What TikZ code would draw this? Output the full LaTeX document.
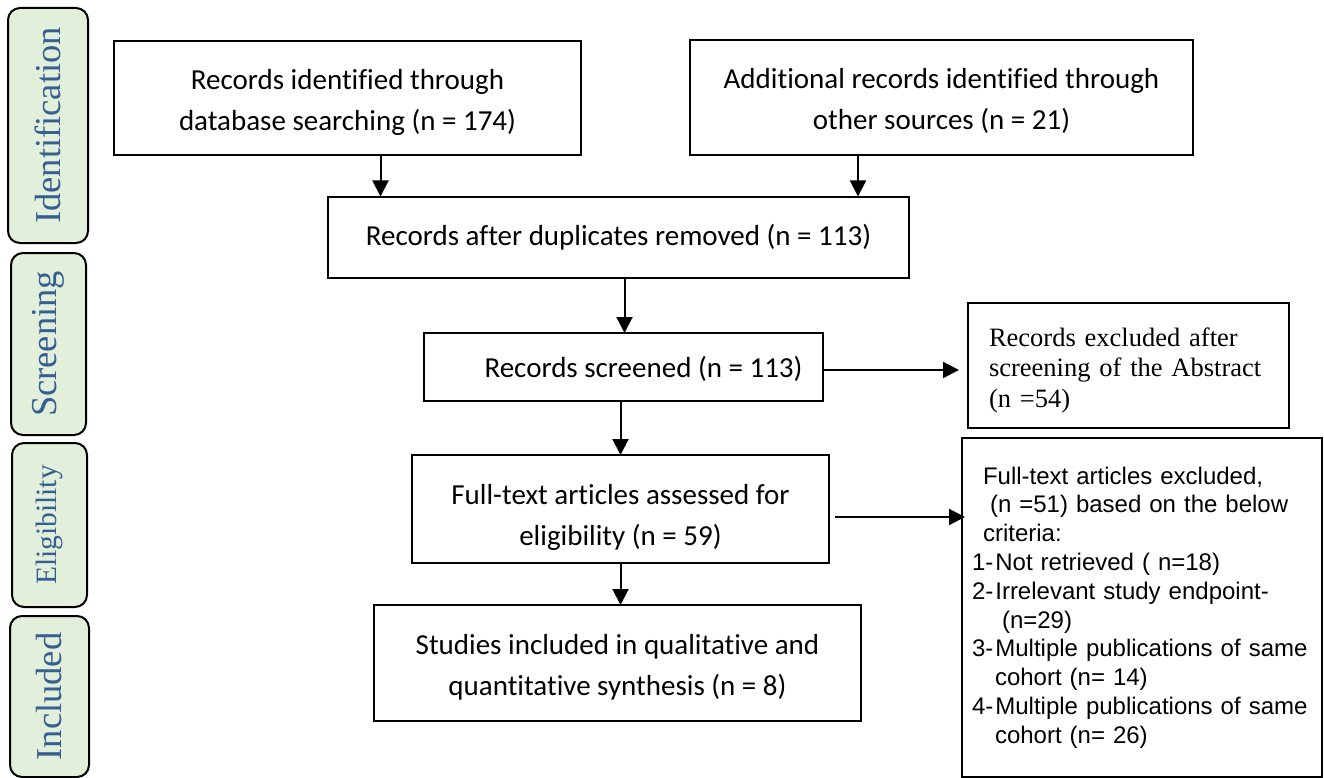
\documentclass[tikz,border=0pt]{standalone}
\usepackage{fontspec}
\setmainfont{Carlito}[Ligatures=CommonOff]
\newfontfamily\timesfont{Liberation Serif}
\newfontfamily\arialfont{Liberation Sans}
\usepackage{tikz}
\usetikzlibrary{positioning, arrows.meta}
\definecolor{phasefill}{HTML}{E2EFDA}
\definecolor{phasetext}{HTML}{365F91}
\tikzset{
  block/.style={rectangle, draw, line width=2pt, inner sep=0pt, outer sep=0pt, align=center, font=\fontsize{29}{41}\selectfont},
  phase/.style={rectangle, rounded corners=12pt, draw, line width=2pt, fill=phasefill, text=phasetext, rotate=90, inner sep=0pt, outer sep=0pt, font=\timesfont\fontsize{36.5}{40}\selectfont},
  sideblock/.style={rectangle, draw, line width=1.7pt, anchor=north west, inner ysep=0pt, outer sep=0pt, align=left},
  arrow/.style={-{Triangle[length=16pt, width=16pt]}, line width=2pt},
}

\begin{document}
\begin{tikzpicture}[x=1pt, y=-1pt]
  \useasboundingbox (0,0) rectangle (1324,778);

  % Phase labels
  \node[phase, minimum width=235pt, minimum height=80pt] (ident) at (48,125.5) {Identification};
  \node[phase, minimum width=182pt, minimum height=75pt] (screen) at (48.5,344) {Screening};
  \node[phase, minimum width=164pt, minimum height=75pt, font=\timesfont\fontsize{29.5}{32}\selectfont] (elig) at (49.5,525) {Eligibility};
  \node[phase, minimum width=161pt, minimum height=79pt] (incl) at (49.5,696.5) {Included};

  % Main flow
  \node[block, minimum width=467pt, minimum height=114pt] (idsearch) at (347.5,98) {\rule{0pt}{28pt}Records identified through\\database searching (n = 174)};
  \node[block, minimum width=503pt, minimum height=115pt] (idother) at (941.5,97.5) {\rule{0pt}{28pt}Additional records identified through\\other sources (n = 21)};
  \node[block, minimum width=581pt, minimum height=81pt] (dedup) at (618.5,237) {Records after duplicates removed (n = 113)};
  \node[block, minimum width=399pt, minimum height=68pt] (screened) at (623.5,367) {\hspace*{40pt}\rule{0pt}{26pt}Records screened (n = 113)};
  \node[block, minimum width=417pt, minimum height=108pt] (eligib) at (620.5,509) {\rule{0pt}{36pt}Full-text articles assessed for\\eligibility (n = 59)};
  \node[block, minimum width=487pt, minimum height=116pt] (studies) at (617.5,663) {\rule{0pt}{28pt}Studies included in qualitative and\\quantitative synthesis (n = 8)};

  % Exclusions
  \node[sideblock, minimum height=125pt, text width=279pt, inner xsep=21pt, font=\timesfont\fontsize{26.5}{30.5}\selectfont] (exclabs) at (968,303) {\rule{0pt}{28pt}Records excluded after\\screening of the Abstract\\(n =54)};
  \node[sideblock, minimum height=339pt, text width=340pt, inner xsep=10pt, font=\arialfont\fontsize{24}{28.8}\selectfont] (exclft) at (962,438) {%
    \hspace*{11pt}Full-text articles excluded,\\
    \hspace*{18pt}(n =51) based on the below\\
    \hspace*{11pt}criteria:\\
    1-\hspace{2pt}Not retrieved ( n=18)\\
    2-\hspace{2pt}Irrelevant study endpoint-\\
    \hspace*{30pt}(n=29)\\
    3-\hspace{2pt}Multiple publications of same\\
    \hspace*{23pt}cohort (n= 14)\\
    4-\hspace{2pt}Multiple publications of same\\
    \hspace*{23pt}cohort (n= 26)};

  % Arrows
  \draw[arrow] ([xshift=33pt]idsearch.south) -- ([xshift=33pt]idsearch.south |- dedup.north);
  \draw[arrow] ([xshift=-83.5pt]idother.south) -- ([xshift=-83.5pt]idother.south |- dedup.north);
  \draw[arrow] ([xshift=6pt]dedup.south) -- ([xshift=6pt]dedup.south |- screened.north);
  \draw[arrow] (eligib.north |- screened.south) -- (eligib.north);
  \draw[arrow] (eligib.south) -- (eligib.south |- studies.north);
  \draw[arrow, shorten >=9pt] ([yshift=-3pt]screened.east) -- ([yshift=-3pt]screened.east -| exclabs.west);
  \draw[arrow, shorten >=-3pt] ([xshift=6pt,yshift=-8pt]eligib.east) -- ([yshift=-8pt]eligib.east -| exclft.west);

\end{tikzpicture}
\end{document}
